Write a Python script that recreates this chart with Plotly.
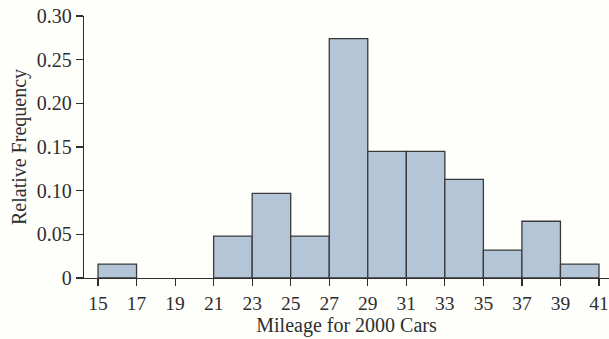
import plotly.graph_objects as go

bin_edges = [15, 17, 19, 21, 23, 25, 27, 29, 31, 33, 35, 37, 39, 41]
rel_freq = [0.016, 0.0, 0.0, 0.048, 0.097, 0.048, 0.274, 0.145, 0.145, 0.113, 0.032, 0.065, 0.016]
y_ticks = [0, 0.05, 0.10, 0.15, 0.20, 0.25, 0.30]
y_tick_text = ["0", "0.05", "0.10", "0.15", "0.20", "0.25", "0.30"]

centers = [(bin_edges[i] + bin_edges[i + 1]) / 2 for i in range(len(rel_freq))]
widths = [bin_edges[i + 1] - bin_edges[i] for i in range(len(rel_freq))]
edge_widths = [0 if v == 0 else 1.3 for v in rel_freq]

font_family = "Liberation Serif, Times New Roman, serif"
ink = "#2e2e2e"

fig = go.Figure(
    go.Bar(
        x=centers,
        y=rel_freq,
        width=widths,
        marker=dict(color="#b3c5d7", line=dict(color="#3a3a3a", width=edge_widths)),
        hoverinfo="skip",
    )
)

fig.update_layout(
    width=609,
    height=339,
    margin=dict(l=84, r=0, t=16, b=61),
    paper_bgcolor="#fefefb",
    plot_bgcolor="#fefefb",
    showlegend=False,
    font=dict(family=font_family, color=ink, size=20),
    bargap=0,
)

fig.update_xaxes(
    range=[14.272, 41.52],
    tickvals=bin_edges,
    ticktext=[str(v) for v in bin_edges],
    ticks="outside",
    ticklen=7,
    tickwidth=1.2,
    tickcolor=ink,
    showline=True,
    linecolor=ink,
    linewidth=1.3,
    showgrid=False,
    zeroline=False,
    automargin=False,
    ticklabeloverflow="allow",
    tickfont=dict(size=19.5, family=font_family, color=ink),
    title=dict(text="Mileage for 2000 Cars", font=dict(size=20, family=font_family, color=ink), standoff=4),
)

fig.update_yaxes(
    range=[0, 0.30],
    tickvals=y_ticks,
    ticktext=y_tick_text,
    ticks="outside",
    ticklen=7,
    tickwidth=1.2,
    tickcolor=ink,
    showline=True,
    linecolor=ink,
    linewidth=1.3,
    showgrid=False,
    zeroline=False,
    automargin=False,
    tickfont=dict(size=20, family=font_family, color=ink),
    title=dict(text="Relative Frequency", font=dict(size=20, family=font_family, color=ink), standoff=4),
)

fig.write_html(
    "out.html",
    config={"displayModeBar": False, "staticPlot": True},
    post_script="document.body.style.margin='0';document.body.style.background='#fefefb';",
)
